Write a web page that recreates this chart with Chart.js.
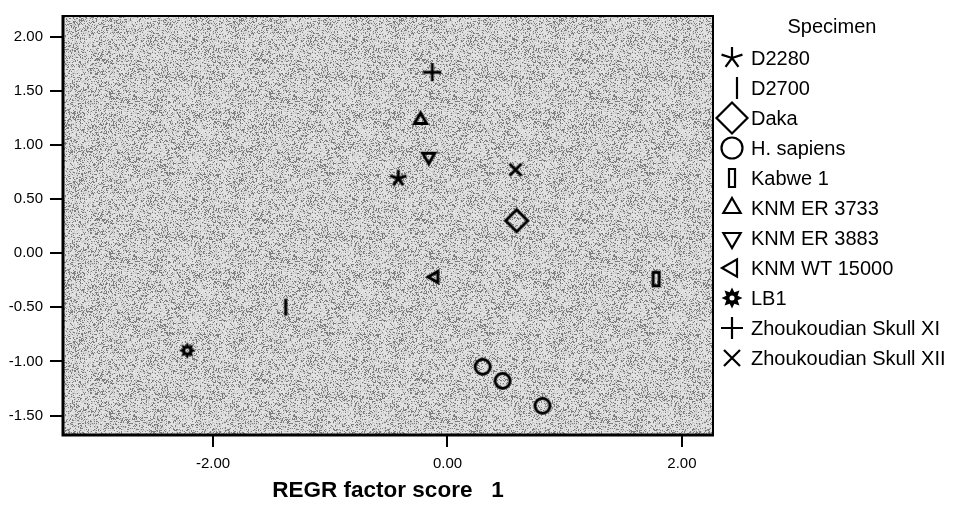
<!DOCTYPE html>
<html>
<head>
<meta charset="utf-8">
<script src="https://cdn.jsdelivr.net/npm/chart.js"></script>
<style>
html,body{margin:0;padding:0;background:#fff;}
#wrap{width:958px;height:511px;position:relative;}
</style>
</head>
<body>
<div id="wrap"><canvas id="c" width="958" height="511"></canvas></div>
<script>
// ---- data ----
const specimenNames = ['D2280','D2700','Daka','H. sapiens','Kabwe 1','KNM ER 3733','KNM ER 3883','KNM WT 15000','LB1','Zhoukoudian Skull XI','Zhoukoudian Skull XII'];
const factorScore1 = [[-0.42],[-1.38],[0.59],[0.30,0.47,0.81],[1.78],[-0.23],[-0.16],[-0.11],[-2.22],[-0.13],[0.58]];
const factorScore2 = [[0.69],[-0.50],[0.30],[-1.05,-1.18,-1.41],[-0.24],[1.23],[0.89],[-0.22],[-0.90],[1.67],[0.77]];
const xTickValues = [-2, 0, 2];
const yTickValues = [-1.5, -1.0, -0.5, 0, 0.5, 1.0, 1.5, 2.0];
const markerKinds = ['star5','vline','diamond','circle','tallrect','triUp','triDown','triLeft','gear','plus','cross'];

const FONT = "'Liberation Sans', Arial, Helvetica, sans-serif";

// ---- marker icon builder ----
function makeIcon(kind, p) {
  const S = p.S;
  const cv = document.createElement('canvas');
  cv.width = S; cv.height = S;
  const g = cv.getContext('2d');
  const c = S / 2;
  g.strokeStyle = '#000'; g.fillStyle = '#000';
  g.lineWidth = p.lw; g.lineJoin = 'miter'; g.lineCap = 'butt';
  const R = p.R;
  g.beginPath();
  switch (kind) {
    case 'star5':
      for (let k = 0; k < 5; k++) {
        const a = -Math.PI / 2 + k * 2 * Math.PI / 5;
        g.moveTo(c, c); g.lineTo(c + R * Math.cos(a), c + R * Math.sin(a));
      }
      g.stroke(); break;
    case 'vline':
      g.moveTo(c, c - R); g.lineTo(c, c + R); g.stroke(); break;
    case 'diamond':
      g.moveTo(c - R, c); g.lineTo(c, c - R); g.lineTo(c + R, c); g.lineTo(c, c + R); g.closePath(); g.stroke(); break;
    case 'circle':
      g.arc(c, c, R, 0, Math.PI * 2); g.stroke(); break;
    case 'tallrect':
      g.rect(c - p.w / 2, c - p.h / 2, p.w, p.h); g.stroke(); break;
    case 'triUp': case 'triDown': case 'triLeft': {
      const a0 = kind === 'triUp' ? -Math.PI / 2 : (kind === 'triDown' ? Math.PI / 2 : Math.PI);
      for (let k = 0; k < 3; k++) {
        const a = a0 + k * 2 * Math.PI / 3;
        const x = c + R * Math.cos(a), y = c + R * Math.sin(a);
        if (k === 0) g.moveTo(x, y); else g.lineTo(x, y);
      }
      g.closePath(); g.stroke(); break;
    }
    case 'gear': {
      for (let k = 0; k < 16; k++) {
        const a = -Math.PI / 2 + k * Math.PI / 8;
        const r = (k % 2 === 0) ? R : R * 0.58;
        const x = c + r * Math.cos(a), y = c + r * Math.sin(a);
        if (k === 0) g.moveTo(x, y); else g.lineTo(x, y);
      }
      g.closePath(); g.fill();
      g.globalCompositeOperation = 'destination-out';
      g.beginPath(); g.arc(c, c, R * 0.24, 0, Math.PI * 2); g.fill();
      g.globalCompositeOperation = 'source-over';
      break;
    }
    case 'plus':
      g.moveTo(c - R, c); g.lineTo(c + R, c); g.moveTo(c, c - R); g.lineTo(c, c + R); g.stroke(); break;
    case 'cross':
      g.moveTo(c - R, c - R); g.lineTo(c + R, c + R); g.moveTo(c + R, c - R); g.lineTo(c - R, c + R); g.stroke(); break;
  }
  return cv;
}

const plotIconParams = {
  star5: {S: 22, R: 8.5, lw: 3},
  vline: {S: 22, R: 8.5, lw: 3.2},
  diamond: {S: 30, R: 11, lw: 3},
  circle: {S: 24, R: 7.5, lw: 3},
  tallrect: {S: 22, w: 6, h: 13.5, lw: 3},
  triUp: {S: 22, R: 7, lw: 3},
  triDown: {S: 22, R: 7, lw: 3},
  triLeft: {S: 22, R: 6.5, lw: 3},
  gear: {S: 22, R: 8.5, lw: 1},
  plus: {S: 24, R: 9, lw: 2.8},
  cross: {S: 20, R: 6, lw: 3}
};
const legendIconParams = {
  star5: {S: 26, R: 11, lw: 2.2},
  vline: {S: 26, R: 11, lw: 2.2},
  diamond: {S: 36, R: 15.5, lw: 2.2},
  circle: {S: 28, R: 10.5, lw: 2.2},
  tallrect: {S: 24, w: 6, h: 18, lw: 2.2},
  triUp: {S: 26, R: 10, lw: 2.2},
  triDown: {S: 26, R: 10, lw: 2.2},
  triLeft: {S: 26, R: 10, lw: 2.2},
  gear: {S: 26, R: 10.5, lw: 1},
  plus: {S: 26, R: 11, lw: 2.2},
  cross: {S: 24, R: 8, lw: 2.2}
};
const legendIconDx = {vline: 5};

const plotIcons = markerKinds.map(k => makeIcon(k, plotIconParams[k]));
const legendIcons = markerKinds.map(k => makeIcon(k, legendIconParams[k]));

// ---- background stipple texture (deterministic hash noise, decoration only) ----
function hash(x, y) {
  const s = Math.sin(x * 12.9898 + y * 78.233) * 43758.5453;
  return s - Math.floor(s);
}
function makePattern(ctx) {
  const N = 160;
  const pc = document.createElement('canvas');
  pc.width = N; pc.height = N;
  const g = pc.getContext('2d');
  const img = g.createImageData(N, N);
  for (let y = 0; y < N; y++) {
    for (let x = 0; x < N; x++) {
      const mott = 0.5 + 0.25 * Math.sin(x * 2 * Math.PI / 40 + y * 2 * Math.PI / 80) + 0.25 * Math.sin(y * 2 * Math.PI / 32 - x * 2 * Math.PI / 160);
      const density = 0.14 + 0.16 * mott;
      const dark = hash(x, y) < density;
      const v = dark ? 125 : (hash(y + 7, x + 3) < 0.3 ? 200 : 226);
      const i = (y * N + x) * 4;
      img.data[i] = v; img.data[i + 1] = v; img.data[i + 2] = v; img.data[i + 3] = 255;
    }
  }
  g.putImageData(img, 0, 0);
  return ctx.createPattern(pc, 'repeat');
}

const bgFramePlugin = {
  id: 'bgFrame',
  beforeDraw(chart) {
    const {ctx, chartArea: a} = chart;
    ctx.save();
    ctx.fillStyle = makePattern(ctx);
    ctx.fillRect(a.left, a.top, a.right - a.left, a.bottom - a.top);
    ctx.restore();
  },
  afterDatasetsDraw(chart) {
    const {ctx, chartArea: a} = chart;
    ctx.save();
    ctx.strokeStyle = '#000';
    ctx.lineWidth = 2;
    ctx.beginPath();
    ctx.moveTo(a.left, a.top); ctx.lineTo(a.right, a.top); ctx.lineTo(a.right, a.bottom);
    ctx.stroke();
    ctx.lineWidth = 3;
    ctx.beginPath();
    ctx.moveTo(a.left, a.top - 1); ctx.lineTo(a.left, a.bottom); ctx.lineTo(a.right + 1, a.bottom);
    ctx.stroke();
    ctx.restore();
  }
};

const legendPlugin = {
  id: 'specimenLegend',
  afterDraw(chart) {
    const ctx = chart.ctx;
    const a = chart.chartArea;
    ctx.save();
    ctx.fillStyle = '#000';
    ctx.font = '20px ' + FONT;
    ctx.textBaseline = 'middle';
    ctx.textAlign = 'center';
    ctx.fillText('Specimen', a.right + 119, 27);
    ctx.textAlign = 'left';
    specimenNames.forEach((name, i) => {
      const y = 58 + 30 * i;
      const icon = legendIcons[i];
      const cx = a.right + 19 + (legendIconDx[markerKinds[i]] || 0);
      ctx.drawImage(icon, Math.round(cx - icon.width / 2), Math.round(y - icon.height / 2));
      ctx.fillText(name, a.right + 38, y + 1);
    });
    ctx.restore();
  }
};

const datasets = specimenNames.map((name, i) => ({
  label: name,
  data: factorScore1[i].map((x, j) => ({x: x, y: factorScore2[i][j]})),
  pointStyle: plotIcons[i],
  pointRadius: 8,
  pointHoverRadius: 8,
  showLine: false
}));

Chart.defaults.font.family = FONT;
Chart.defaults.color = '#000';

new Chart(document.getElementById('c'), {
  type: 'scatter',
  data: {datasets: datasets},
  options: {
    responsive: false,
    animation: false,
    devicePixelRatio: 1,
    layout: {padding: {left: 0, top: 9, right: 245, bottom: 0}},
    plugins: {legend: {display: false}, tooltip: {enabled: false}},
    scales: {
      x: {
        type: 'linear',
        min: -3.28, max: 2.265,
        afterBuildTicks(axis) { axis.ticks = xTickValues.map(v => ({value: v})); },
        afterFit(axis) { axis.height = 76; },
        ticks: {callback: v => v.toFixed(2), font: {size: 15}, padding: 8, color: '#000', maxRotation: 0},
        grid: {display: true, drawOnChartArea: false, drawTicks: true, tickLength: 12, color: '#000', lineWidth: 2},
        border: {display: false},
        title: {display: true, text: 'REGR factor score   1', font: {size: 22.5, weight: 'bold'}, color: '#000', padding: {top: 0, bottom: 7}}
      },
      y: {
        type: 'linear',
        min: -1.68, max: 2.19,
        afterBuildTicks(axis) { axis.ticks = yTickValues.map(v => ({value: v})); },
        afterFit(axis) { axis.width = 63; },
        ticks: {callback: v => v.toFixed(2), font: {size: 15}, padding: 7, color: '#000'},
        grid: {display: true, drawOnChartArea: false, drawTicks: true, tickLength: 13, color: '#000', lineWidth: 2},
        border: {display: false}
      }
    }
  },
  plugins: [bgFramePlugin, legendPlugin]
});
</script>
</body>
</html>
